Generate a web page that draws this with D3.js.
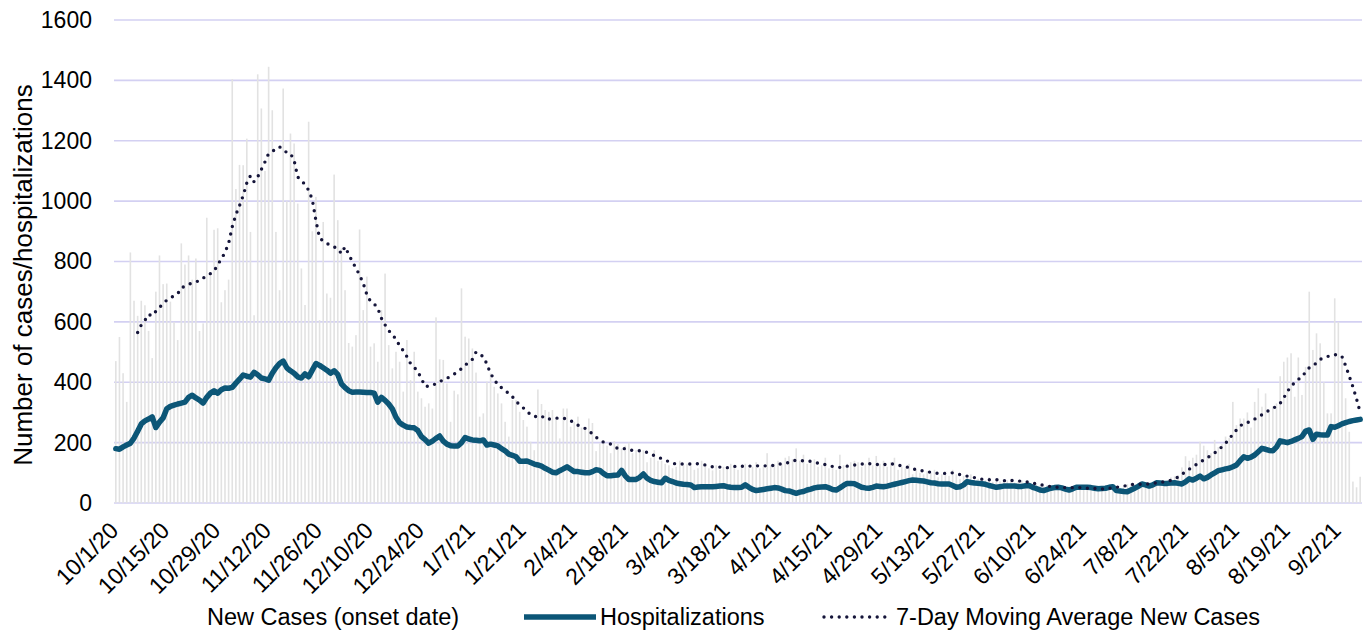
<!DOCTYPE html>
<meta charset="utf-8">
<style>
    body { margin: 0; background: #fff; }
    text { font-family: Arial, "Liberation Sans", sans-serif; fill: #000; }
</style>
<svg width="1369" height="630"></svg>
<script src="https://d3js.org/d3.v7.min.js"></script>
<script>

    // first day of the series, one value per day after that
    var startDate = "2020-10-01";

    var tickLabels = ["10/1/20", "10/15/20", "10/29/20", "11/12/20", "11/26/20", "12/10/20", "12/24/20",
        "1/7/21", "1/21/21", "2/4/21", "2/18/21", "3/4/21", "3/18/21", "4/1/21", "4/15/21", "4/29/21",
        "5/13/21", "5/27/21", "6/10/21", "6/24/21", "7/8/21", "7/22/21", "8/5/21", "8/19/21", "9/2/21"];

    var yTicks = [0, 200, 400, 600, 800, 1000, 1200, 1400, 1600];

    var newCases = [
        470, 550, 430, 335, 830, 670, 620, 670, 655, 570, 480, 700, 820, 725,
        727, 667, 600, 540, 860, 790, 820, 740, 810, 570, 595, 945, 760, 905,
        910, 665, 705, 740, 1404, 1040, 1120, 1119, 1207, 898, 622, 1420, 1307, 1100,
        1445, 1301, 898, 705, 1373, 1000, 1224, 1191, 992, 777, 656, 1263, 900, 1014,
        606, 931, 694, 680, 1088, 937, 843, 705, 530, 518, 556, 906, 639, 750,
        518, 529, 468, 639, 760, 523, 446, 501, 468, 369, 540, 407, 501, 369,
        347, 319, 330, 313, 615, 476, 474, 396, 269, 372, 360, 711, 551, 545,
        512, 432, 286, 297, 402, 429, 385, 363, 330, 269, 220, 341, 341, 302,
        275, 253, 203, 175, 376, 328, 308, 302, 308, 275, 214, 313, 313, 253,
        269, 286, 250, 245, 280, 265, 172, 198, 205, 190, 165, 205, 195, 180,
        190, 200, 165, 175, 180, 175, 135, 150, 175, 140, 140, 130, 125, 115,
        120, 140, 125, 130, 135, 110, 115, 140, 130, 115, 108, 125, 110, 120,
        115, 130, 125, 110, 125, 130, 115, 120, 135, 115, 120, 165, 125, 130,
        140, 130, 150, 155, 145, 181, 140, 160, 130, 135, 145, 120, 125, 150,
        115, 120, 110, 160, 125, 130, 135, 140, 135, 120, 130, 150, 125, 156,
        130, 140, 120, 135, 150, 110, 120, 115, 130, 95, 110, 100, 95, 105,
        100, 110, 85, 95, 105, 90, 110, 95, 80, 90, 85, 95, 75, 80,
        80, 75, 85, 70, 80, 72, 78, 75, 80, 68, 72, 75, 65, 68,
        62, 65, 58, 55, 60, 50, 55, 52, 50, 48, 55, 50, 52, 48,
        52, 45, 50, 48, 42, 50, 46, 52, 48, 55, 50, 58, 62, 65,
        58, 62, 66, 60, 70, 65, 68, 72, 70, 75, 85, 88, 92, 118,
        155, 140, 150, 160, 203, 190, 175, 165, 209, 185, 195, 220, 215, 335,
        258, 280, 280, 300, 250, 335, 380, 319, 363, 300, 320, 330, 420, 468,
        482, 496, 352, 482, 358, 451, 700, 507, 562, 529, 400, 297, 297, 678,
        600, 480, 347, 236, 71, 52, 87
    ];

    var hospitalizations = [
        180, 178, 186, 192, 198, 215, 238, 262, 272, 278, 285, 250, 268, 282,
        312, 320, 324, 328, 331, 334, 350, 357, 348, 341, 331, 350, 364, 372,
        364, 375, 381, 380, 383, 397, 410, 424, 420, 417, 433, 425, 414, 411,
        407, 430, 448, 462, 470, 448, 438, 430, 418, 414, 428, 418, 440, 462,
        456, 448, 440, 430, 438, 426, 395, 382, 372, 367, 368, 368, 367, 366,
        366, 364, 334, 350, 340, 328, 312, 284, 266, 258, 252, 250, 249, 240,
        220, 210, 198, 205, 214, 222, 205, 195, 190, 189, 189, 200, 217, 212,
        209, 208, 206, 209, 192, 195, 192, 189, 180, 173, 162, 158, 153, 138,
        138, 139, 134, 129, 126, 122, 115, 109, 102, 100, 107, 113, 120, 112,
        104, 104, 102, 100, 100, 104, 110, 108, 98, 90, 90, 92, 93, 108,
        90, 78, 78, 78, 85, 96, 82, 75, 71, 69, 67, 82, 75, 71,
        66, 64, 62, 61, 60, 51, 53, 54, 54, 54, 54, 55, 56, 57,
        54, 52, 51, 51, 52, 60, 52, 45, 41, 43, 45, 47, 49, 51,
        50, 46, 41, 40, 36, 32, 36, 38, 43, 46, 50, 52, 53, 54,
        50, 45, 43, 50, 58, 65, 65, 64, 58, 52, 50, 49, 52, 56,
        55, 54, 56, 59, 62, 65, 68, 71, 74, 76, 75, 74, 73, 70,
        67, 66, 64, 63, 63, 63, 58, 52, 54, 60, 71, 68, 66, 65,
        64, 62, 58, 55, 52, 54, 56, 56, 56, 56, 55, 55, 57, 58,
        52, 48, 43, 41, 45, 49, 51, 52, 50, 46, 43, 47, 52, 52,
        52, 52, 51, 49, 47, 48, 49, 52, 54, 41, 40, 38, 37, 43,
        49, 55, 63, 60, 56, 60, 67, 66, 65, 65, 66, 67, 65, 63,
        70, 80, 76, 82, 89, 80, 85, 93, 100, 107, 110, 113, 115, 120,
        126, 140, 153, 148, 152, 159, 170, 181, 178, 174, 173, 185, 206, 203,
        200, 204, 209, 214, 220, 238, 242, 211, 228, 226, 225, 225, 253, 251,
        256, 262, 266, 270, 273, 275, 277
    ];

    var movingAvg = [
        null, null, null, null, null, null, 565, 590, 605, 625, 620, 635, 648, 660,
        672, 680, 686, 693, 713, 718, 724, 729, 733, 736, 745, 753, 760, 768,
        790, 808, 830, 860, 915, 955, 985, 1018, 1060, 1084, 1064, 1080, 1105, 1130,
        1158, 1165, 1172, 1180, 1170, 1161, 1158, 1135, 1080, 1068, 1055, 1036, 1005, 935,
        878, 868, 860, 854, 848, 843, 826, 849, 824, 800, 778, 755, 728, 690,
        668, 660, 645, 612, 590, 572, 555, 545, 520, 505, 485, 462, 450, 435,
        412, 386, 387, 389, 396, 402, 408, 413, 420, 427, 435, 445, 456, 467,
        476, 500, 492, 485, 460, 428, 411, 390, 382, 374, 362, 352, 337, 325,
        315, 302, 294, 286, 288, 289, 278, 278, 280, 281, 281, 281, 277, 273,
        265, 258, 252, 247, 240, 228, 218, 208, 202, 198, 195, 188, 180, 180,
        180, 177, 174, 173, 173, 173, 167, 161, 157, 152, 147, 142, 137, 131,
        130, 129, 129, 129, 129, 130, 130, 128, 126, 123, 120, 120, 119, 118,
        117, 118, 121, 123, 122, 121, 122, 123, 123, 123, 123, 123, 123, 125,
        128, 130, 131, 135, 140, 141, 140, 140, 139, 138, 135, 132, 130, 127,
        124, 121, 119, 118, 120, 122, 124, 126, 127, 129, 131, 130, 129, 128,
        127, 127, 129, 130, 128, 125, 123, 121, 117, 113, 111, 108, 106, 103,
        102, 100, 98, 98, 98, 99, 100, 97, 94, 92, 89, 88, 84, 80,
        79, 77, 77, 77, 77, 76, 74, 74, 75, 74, 73, 72, 71, 68,
        66, 63, 61, 59, 57, 54, 53, 52, 51, 51, 50, 51, 52, 51,
        49, 49, 49, 48, 47, 46, 48, 49, 50, 52, 54, 56, 58, 61,
        62, 62, 62, 63, 63, 65, 67, 68, 70, 72, 75, 80, 86, 95,
        104, 112, 120, 128, 135, 143, 150, 158, 166, 176, 186, 198, 212, 228,
        242, 255, 264, 267, 270, 278, 286, 292, 300, 307, 314, 320, 330, 348,
        370, 385, 400, 410, 416, 435, 448, 453, 465, 476, 480, 485, 489, 491,
        492, 485, 455, 420, 385, 345, 300
    ];

    var legendNames = ["New Cases (onset date)", "Hospitalizations", "7-Day Moving Average New Cases"];

    var barColor = "#e2e2e2",
        hospColor = "#0c5677",
        avgColor = "#15153a",
        gridColor = "#d3d0f2";

    var svg = d3.select("svg"),
        margin = { top: 20, right: 7, bottom: 127, left: 114 },
        width = +svg.attr("width") - margin.left - margin.right,
        height = +svg.attr("height") - margin.top - margin.bottom,
        g = svg.append("g").attr("transform", "translate(" + margin.left + "," + margin.top + ")");

    var fmt = d3.timeFormat("%-m/%-d/%y");
    var day0 = d3.timeParse("%Y-%m-%d")(startDate);
    var categories = newCases.map(function (d, i) { return fmt(d3.timeDay.offset(day0, i)); });

    var x = d3.scaleBand().domain(categories).range([0, width]),
        y = d3.scaleLinear().domain([0, 1600]).range([height, 0]);
    var bw = x.bandwidth();
    var cx = function (i) { return x(categories[i]) + bw / 2; };

    // gridlines
    g.append("g")
        .selectAll("line")
        .data(yTicks)
        .enter().append("line")
        .attr("x1", 0)
        .attr("x2", width)
        .attr("y1", function (d) { return y(d); })
        .attr("y2", function (d) { return y(d); })
        .attr("stroke", gridColor)
        .attr("stroke-width", 1.6);

    // daily new cases
    g.append("g")
        .selectAll("rect")
        .data(newCases)
        .enter().append("rect")
        .attr("x", function (d, i) { return cx(i) - 0.8; })
        .attr("width", 1.6)
        .attr("y", function (d) { return y(d); })
        .attr("height", function (d) { return height - y(d); })
        .attr("fill", barColor);

    var line = d3.line()
        .defined(function (d) { return d != null; })
        .x(function (d, i) { return cx(i); })
        .y(function (d) { return y(d); });

    g.append("path")
        .datum(hospitalizations)
        .attr("fill", "none")
        .attr("stroke", hospColor)
        .attr("stroke-width", 5.5)
        .attr("stroke-linejoin", "round")
        .attr("stroke-linecap", "round")
        .attr("d", line);

    g.append("path")
        .datum(movingAvg)
        .attr("fill", "none")
        .attr("stroke", avgColor)
        .attr("stroke-width", 3.4)
        .attr("stroke-linecap", "round")
        .attr("stroke-dasharray", "0 7.6")
        .attr("d", line);

    // y axis
    g.append("g")
        .call(d3.axisLeft(y).tickValues(yTicks).tickFormat(d3.format("d")).tickSize(0).tickPadding(22))
        .call(function (a) { a.select(".domain").remove(); })
        .selectAll("text")
        .style("font-size", "23px")
        .attr("fill", "#000");

    // x labels
    g.append("g")
        .selectAll("text")
        .data(tickLabels)
        .enter().append("text")
        .attr("transform", function (d) {
            return "translate(" + (cx(categories.indexOf(d)) + 4) + "," + (height + 29) + ") rotate(-45)";
        })
        .attr("text-anchor", "end")
        .style("font-size", "23px")
        .text(function (d) { return d; });

    // axis title
    svg.append("text")
        .attr("transform", "translate(32," + (margin.top + height * 0.528) + ") rotate(-90)")
        .attr("text-anchor", "middle")
        .style("font-size", "26px")
        .text("Number of cases/hospitalizations");

    // legend
    var ly = 617;
    var legend = svg.append("g").style("font-size", "23.5px");

    legend.append("text").attr("x", 207).attr("y", ly).attr("dy", "0.35em").text(legendNames[0]);

    legend.append("line")
        .attr("x1", 524).attr("x2", 596).attr("y1", ly).attr("y2", ly)
        .attr("stroke", hospColor).attr("stroke-width", 5.5);
    legend.append("text").attr("x", 600).attr("y", ly).attr("dy", "0.35em").text(legendNames[1]);

    legend.append("line")
        .attr("x1", 824).attr("x2", 892).attr("y1", ly).attr("y2", ly)
        .attr("stroke", avgColor).attr("stroke-width", 3.4)
        .attr("stroke-linecap", "round").attr("stroke-dasharray", "0 7.6");
    legend.append("text").attr("x", 896).attr("y", ly).attr("dy", "0.35em").text(legendNames[2]);

</script>
